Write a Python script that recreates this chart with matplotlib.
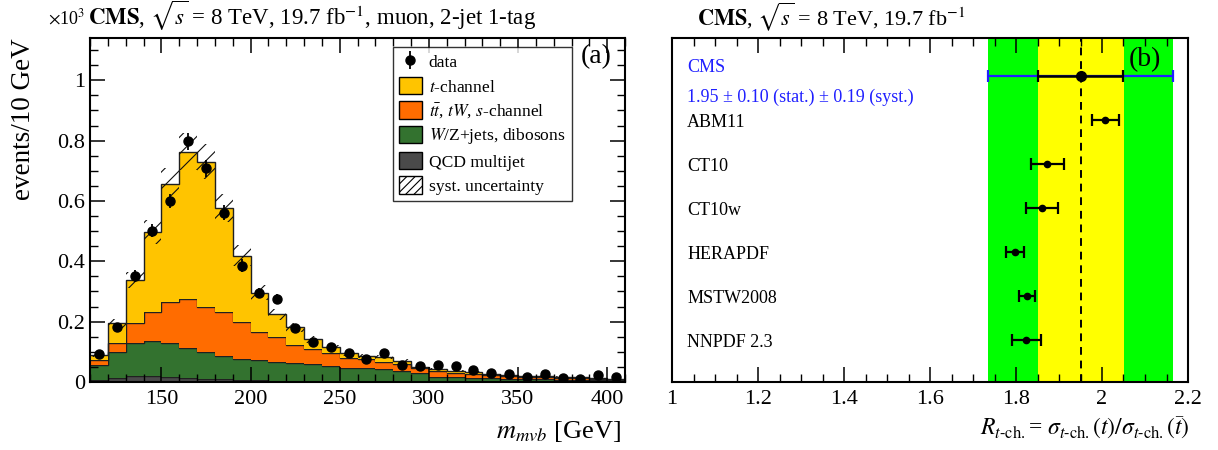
import numpy as np
import matplotlib
matplotlib.use('Agg')
import matplotlib.pyplot as plt
from matplotlib.ticker import MultipleLocator, FuncFormatter
from matplotlib.patches import Patch

plt.rcParams['font.family'] = ['Liberation Serif', 'DejaVu Serif']
plt.rcParams['mathtext.fontset'] = 'stix'
plt.rcParams['hatch.linewidth'] = 0.8

# ---- panel (a): m_mvb distribution, events in units of 10^3 per 10 GeV bin ----
bin_edges = np.arange(110, 411, 10)

qcd = [0.005, 0.014, 0.021, 0.021, 0.017, 0.014, 0.011, 0.009, 0.006, 0.005,
       0.004, 0.004, 0.003, 0.003, 0.003, 0.002, 0.002, 0.002, 0.002, 0.001,
       0.001, 0.001, 0.001, 0.001, 0.001, 0.001, 0.001, 0.001, 0.001, 0.001]
wzjets = [0.051, 0.086, 0.107, 0.115, 0.113, 0.100, 0.087, 0.077, 0.071, 0.068,
          0.062, 0.060, 0.057, 0.050, 0.044, 0.043, 0.040, 0.035, 0.027, 0.017,
          0.015, 0.013, 0.011, 0.009, 0.008, 0.008, 0.006, 0.005, 0.005, 0.004]
ttbar = [0.017, 0.030, 0.066, 0.097, 0.136, 0.160, 0.151, 0.145, 0.121, 0.092,
         0.082, 0.058, 0.048, 0.042, 0.031, 0.030, 0.025, 0.023, 0.016, 0.018,
         0.015, 0.012, 0.011, 0.010, 0.009, 0.007, 0.007, 0.006, 0.003, 0.002]
tchannel = [0.016, 0.064, 0.144, 0.264, 0.390, 0.489, 0.481, 0.346, 0.221, 0.131,
            0.076, 0.059, 0.033, 0.020, 0.017, 0.012, 0.015, 0.011, 0.006, 0.007,
            0.006, 0.006, 0.003, 0.004, 0.003, 0.004, 0.004, 0.004, 0.003, 0.002]
syst = [0.007, 0.016, 0.027, 0.040, 0.052, 0.061, 0.058, 0.046, 0.034, 0.024,
        0.018, 0.014, 0.011, 0.009, 0.008, 0.007, 0.007, 0.006, 0.004, 0.003,
        0.003, 0.003, 0.002, 0.002, 0.002, 0.002, 0.001, 0.001, 0.001, 0.001]
data = [0.092, 0.181, 0.351, 0.502, 0.599, 0.798, 0.708, 0.561, 0.386, 0.294,
        0.275, 0.178, 0.133, 0.117, 0.097, 0.075, 0.097, 0.056, 0.053, 0.056,
        0.053, 0.040, 0.031, 0.026, 0.018, 0.025, 0.014, 0.009, 0.023, 0.018]
data_err = [0.010, 0.013, 0.019, 0.022, 0.024, 0.028, 0.027, 0.024, 0.020, 0.017,
            0.017, 0.013, 0.012, 0.011, 0.010, 0.009, 0.010, 0.007, 0.007, 0.007,
            0.007, 0.006, 0.006, 0.005, 0.004, 0.005, 0.004, 0.003, 0.005, 0.004]

# ---- panel (b): ratio R_t-ch. ----
cms_val, cms_stat, cms_syst = 1.95, 0.10, 0.19
pdf_names = ['ABM11', 'CT10', 'CT10w', 'HERAPDF', 'MSTW2008', 'NNPDF 2.3']
pdf_vals = [2.007, 1.873, 1.860, 1.798, 1.826, 1.823]
pdf_lo = [0.030, 0.039, 0.037, 0.022, 0.018, 0.032]
pdf_hi = [0.033, 0.039, 0.037, 0.021, 0.019, 0.034]

c_tch = '#ffc400'
c_tt = '#ff6c00'
c_wz = '#33722f'
c_qcd = '#4a4a4a'

W, H = 1218, 450
fig = plt.figure(figsize=(W / 100, H / 100), dpi=100)

ax1 = fig.add_axes([90 / W, 68 / H, 535 / W, 344 / H])

layers = [(qcd, c_qcd), (wzjets, c_wz), (ttbar, c_tt), (tchannel, c_tch)]
bottom = np.zeros(len(qcd))
for vals, col in layers:
    top = bottom + np.array(vals)
    ax1.stairs(top, bin_edges, baseline=bottom, fill=True, color=col, lw=0)
    ax1.stairs(top, bin_edges, baseline=None, color='#202020', lw=1.0)
    bottom = top
total = bottom
syst = np.array(syst)
ax1.stairs(total + syst, bin_edges, baseline=total - syst, fill=True,
           facecolor='none', edgecolor='#111111', hatch='//', lw=0)

centers = 0.5 * (bin_edges[:-1] + bin_edges[1:])
eb = ax1.errorbar(centers, data, yerr=data_err, fmt='o', color='black',
                  ms=6.5, elinewidth=1.3, capsize=0, zorder=5)

ax1.set_xlim(110, 410)
ax1.set_ylim(0, 1.14)
ax1.xaxis.set_major_locator(MultipleLocator(50))
ax1.xaxis.set_minor_locator(MultipleLocator(10))
ax1.yaxis.set_major_locator(MultipleLocator(0.2))
ax1.yaxis.set_minor_locator(MultipleLocator(0.05))
fmt = FuncFormatter(lambda v, p: '%g' % round(v, 3))
ax1.yaxis.set_major_formatter(fmt)
ax1.tick_params(which='both', direction='in', top=True, right=True, labelsize=16)
ax1.tick_params(which='major', length=11, width=1.1)
ax1.tick_params(which='minor', length=6, width=1.0)
ax1.tick_params(axis='x', pad=6)
for s in ax1.spines.values():
    s.set_linewidth(1.5)

handles = [eb,
           Patch(facecolor=c_tch, edgecolor='black'),
           Patch(facecolor=c_tt, edgecolor='black'),
           Patch(facecolor=c_wz, edgecolor='black'),
           Patch(facecolor=c_qcd, edgecolor='black'),
           Patch(facecolor='white', edgecolor='black', hatch='////')]
labels = ['data', r'$t$-channel', r'$t\bar{t}$, $tW$, $s$-channel',
          r'$W$/Z+jets, dibosons', 'QCD multijet', 'syst. uncertainty']
leg = ax1.legend(handles, labels, loc='upper left', bbox_to_anchor=(0.566, 0.975),
                 fontsize=12.6, frameon=True, fancybox=False, edgecolor='black',
                 handlelength=1.3, handleheight=1.15, handletextpad=0.4,
                 borderpad=0.35, labelspacing=0.32, borderaxespad=0)
leg.get_frame().set_linewidth(1.0)

ax1.text(0.947, 0.945, '(a)', transform=ax1.transAxes, fontsize=20,
         ha='center', va='center')

fig.text(48 / W, 1 - 24 / H, r'$\times$10$^{3}$', fontsize=13, ha='left', va='baseline')
fig.text(88 / W, 1 - 25 / H,
         r'$\mathbf{CMS}$, $\sqrt{s}$ = 8 TeV, 19.7 fb$^{-1}$, muon, 2-jet 1-tag',
         fontsize=16.5, ha='left', va='baseline')
fig.text(24 / W, 1 - 38 / H, 'events/10 GeV', rotation=90, fontsize=19.5,
         ha='center', va='top')
fig.text(621 / W, 1 - 432 / H, r'$m_{mvb}$ [GeV]', fontsize=19,
         ha='right', va='center')

# ---- right panel ----
ax2 = fig.add_axes([672 / W, 68 / H, 516 / W, 344 / H])
cms_tot = np.sqrt(cms_stat ** 2 + cms_syst ** 2)
ax2.axvspan(cms_val - cms_tot, cms_val + cms_tot, color='#00ff00', lw=0, zorder=0)
ax2.axvspan(cms_val - cms_stat, cms_val + cms_stat, color='#ffff00', lw=0, zorder=0)
ax2.axvline(cms_val, color='black', ls=(0, (4, 3)), lw=1.4, zorder=1)

y_cms = 7.0
ax2.errorbar([cms_val], [y_cms], xerr=[[cms_tot], [cms_tot]], fmt='none',
             ecolor='#1f1fff', elinewidth=1.6, capsize=4, capthick=1.6, zorder=2)
ax2.errorbar([cms_val], [y_cms], xerr=[[cms_stat], [cms_stat]], fmt='o',
             color='black', ms=7, elinewidth=1.8, capsize=4, capthick=1.6, zorder=3)

pdf_y = [6, 5, 4, 3, 2, 1]
ax2.errorbar(pdf_vals, pdf_y, xerr=[pdf_lo, pdf_hi], fmt='o', color='black',
             ms=4.5, elinewidth=1.6, capsize=4, capthick=1.6, zorder=3)

ax2.text(1.035, 7.2, 'CMS', color='#1f1fff', fontsize=13, va='center')
ax2.text(1.035, 6.52, '1.95 ± 0.10 (stat.) ± 0.19 (syst.)',
         color='#1f1fff', fontsize=13, va='center')
for name, y in zip(pdf_names, pdf_y):
    ax2.text(1.035, y - 0.05, name, color='black', fontsize=13, va='center')

ax2.text(2.10, 7.37, '(b)', fontsize=20, ha='center', va='center')

ax2.set_xlim(1.0, 2.2)
ax2.set_ylim(0.045, 7.863)
ax2.xaxis.set_major_locator(MultipleLocator(0.2))
ax2.xaxis.set_minor_locator(MultipleLocator(0.05))
ax2.xaxis.set_major_formatter(FuncFormatter(lambda v, p: '%g' % round(v, 3)))
ax2.set_yticks([])
ax2.tick_params(which='both', direction='in', top=True, labelsize=16)
ax2.tick_params(which='major', length=11, width=1.1)
ax2.tick_params(which='minor', length=6, width=1.0)
ax2.tick_params(axis='x', pad=6)
for s in ax2.spines.values():
    s.set_linewidth(1.5)
    s.set_zorder(4)

fig.text(697 / W, 1 - 25 / H, r'$\mathbf{CMS}$, $\sqrt{s}$ = 8 TeV, 19.7 fb$^{-1}$',
         fontsize=16, ha='left', va='baseline')
fig.text(1190 / W, 1 - 428 / H,
         r'$R_{t\mathrm{\text{-}ch.}}$= $\sigma_{t\mathrm{\text{-}ch.}}(t)/\sigma_{t\mathrm{\text{-}ch.}}(\bar{t})$',
         fontsize=17, ha='right', va='center')

fig.savefig('out.png', dpi=100)
